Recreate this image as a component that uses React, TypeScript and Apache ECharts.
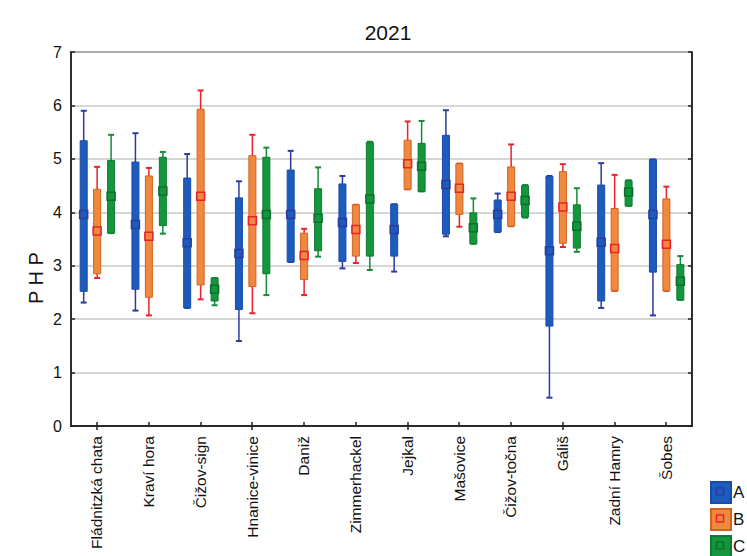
import React, { useEffect, useRef } from "react";
import * as echarts from "echarts";

const title = "2021";
const yName = "P H P";
const categories = [
  "Fládnitzká chata",
  "Kraví hora",
  "Čižov-sign",
  "Hnanice-vinice",
  "Daniž",
  "Zimmerhackel",
  "Jejkal",
  "Mašovice",
  "Čižov-točna",
  "Gáliš",
  "Zadní Hamry",
  "Šobes",
];
const groupNames = ["A", "B", "C"];

// [min, lower box, mean, upper box, max]
const seriesA = [
  [2.31, 2.52, 3.96, 5.34, 5.9],
  [2.16, 2.56, 3.77, 4.94, 5.48],
  [2.21, 2.21, 3.43, 4.64, 5.09],
  [1.59, 2.18, 3.23, 4.27, 4.58],
  [3.07, 3.07, 3.96, 4.79, 5.15],
  [2.95, 3.08, 3.81, 4.53, 4.68],
  [2.89, 3.18, 3.68, 4.15, 4.15],
  [3.55, 3.59, 4.52, 5.44, 5.91],
  [3.63, 3.63, 3.96, 4.23, 4.35],
  [0.53, 1.87, 3.28, 4.67, 4.68],
  [2.21, 2.34, 3.44, 4.51, 4.92],
  [2.07, 2.88, 3.96, 4.99, 4.99],
];
const seriesB = [
  [2.77, 2.85, 3.65, 4.43, 4.85],
  [2.07, 2.41, 3.55, 4.68, 4.83],
  [2.37, 2.64, 4.3, 5.93, 6.28],
  [2.11, 2.61, 3.84, 5.06, 5.45],
  [2.45, 2.74, 3.19, 3.61, 3.69],
  [3.05, 3.18, 3.68, 4.14, 4.14],
  [4.43, 4.43, 4.91, 5.35, 5.7],
  [3.73, 3.96, 4.45, 4.91, 4.91],
  [3.74, 3.74, 4.3, 4.85, 5.27],
  [3.35, 3.42, 4.1, 4.76, 4.9],
  [2.53, 2.53, 3.32, 4.07, 4.7],
  [2.53, 2.53, 3.4, 4.25, 4.48],
];
const seriesC = [
  [3.61, 3.61, 4.3, 4.97, 5.45],
  [3.6, 3.75, 4.4, 5.03, 5.13],
  [2.26, 2.34, 2.56, 2.77, 2.77],
  [2.45, 2.85, 3.96, 5.03, 5.21],
  [3.17, 3.28, 3.89, 4.44, 4.84],
  [2.92, 3.18, 4.25, 5.31, 5.32],
  [4.39, 4.39, 4.86, 5.29, 5.71],
  [3.41, 3.41, 3.71, 3.99, 4.26],
  [3.9, 3.91, 4.22, 4.5, 4.51],
  [3.26, 3.33, 3.74, 4.14, 4.45],
  [4.12, 4.12, 4.38, 4.59, 4.6],
  [2.36, 2.36, 2.71, 3.02, 3.18],
];
const yTicks = [0, 1, 2, 3, 4, 5, 6, 7];

const FONT = "'Liberation Sans', Arial, sans-serif";

const styles = [
  { fill: "#1c5cbf", border: "#1b4aa8", whisker: "#2c3a9e", marker: "#2c3a9e", offset: -0.255 },
  { fill: "#f0883e", border: "#cf6420", whisker: "#e8232e", marker: "#e8232e", offset: 0.005 },
  { fill: "#14963c", border: "#0f7a30", whisker: "#178a3a", marker: "#0f6e2c", offset: 0.275 },
];

function makeRender(st: any) {
  return (params: any, api: any) => {
    const cat = api.value(0);
    const band = api.size([1, 0])[0];
    const xc = api.coord([cat, 0])[0] + st.offset * band;
    const yMin = api.coord([cat, api.value(1)])[1];
    const yQ1 = api.coord([cat, api.value(2)])[1];
    const yMean = api.coord([cat, api.value(3)])[1];
    const yQ3 = api.coord([cat, api.value(4)])[1];
    const yMax = api.coord([cat, api.value(5)])[1];
    const bw = 7;
    const cw = 6;
    const mw = 8;
    return {
      type: "group",
      children: [
        { type: "line", shape: { x1: xc, y1: yMax, x2: xc, y2: yMin }, style: { stroke: st.whisker, lineWidth: 1.5 } },
        { type: "line", shape: { x1: xc - cw / 2, y1: yMax, x2: xc + cw / 2, y2: yMax }, style: { stroke: st.whisker, lineWidth: 2 } },
        { type: "line", shape: { x1: xc - cw / 2, y1: yMin, x2: xc + cw / 2, y2: yMin }, style: { stroke: st.whisker, lineWidth: 2 } },
        {
          type: "rect",
          shape: { x: xc - bw / 2, y: yQ3, width: bw, height: Math.max(yQ1 - yQ3, 1) },
          style: { fill: st.fill, stroke: st.border, lineWidth: 1 },
        },
        {
          type: "rect",
          shape: { x: xc - mw / 2, y: yMean - mw / 2, width: mw, height: mw },
          style: { fill: "none", stroke: st.marker, lineWidth: 1.5 },
        },
      ],
    };
  };
}

export default function App() {
  const ref = useRef<HTMLDivElement>(null);
  useEffect(() => {
    if (!ref.current) return;
    const chart = echarts.init(ref.current, null, { renderer: "svg" });
    const groups = [seriesA, seriesB, seriesC];
    const legendTop = 481;
    const legendItemH = 21;
    const legendStep = 27;
    const option: any = {
      animation: false,
      backgroundColor: "#ffffff",
      textStyle: { fontFamily: FONT },
      title: {
        text: title,
        left: 383,
        textAlign: "center",
        top: 17,
        textStyle: { fontSize: 21, fontWeight: "normal", color: "#111", fontFamily: FONT },
      },
      legend: groupNames.map((n, i) => ({
        orient: "vertical",
        left: 710,
        top: legendTop + i * legendStep,
        itemWidth: 20,
        itemHeight: legendItemH,
        padding: 0,
        icon: "rect",
        data: [n],
        textStyle: {
          fontSize: 17,
          color: "#111",
          fontFamily: FONT,
          padding: [0, 0, 0, -3],
        },
      })),
      grid: {
        left: 71,
        right: 55,
        top: 52,
        bottom: 130,
        show: true,
        borderColor: "#222",
        borderWidth: 1.5,
      },
      xAxis: [
        {
          type: "category",
          data: categories,
          position: "bottom",
          axisLine: { show: true, lineStyle: { color: "#222", width: 1.5 } },
          axisTick: { show: true, inside: true, alignWithLabel: true, length: 4, lineStyle: { color: "#222", width: 1.5 } },
          axisLabel: { rotate: 90, fontSize: 15.5, color: "#111", margin: 10, fontFamily: FONT, interval: 0 },
          splitLine: { show: false },
        },
        {
          type: "category",
          data: categories,
          position: "top",
          axisLine: { show: true, lineStyle: { color: "#222", width: 1.5 } },
          axisTick: { show: true, inside: true, alignWithLabel: true, length: 4, lineStyle: { color: "#222", width: 1.5 } },
          axisLabel: { show: false },
          splitLine: { show: false },
        },
      ],
      yAxis: [
        {
          type: "value",
          min: yTicks[0],
          max: yTicks[yTicks.length - 1],
          interval: 1,
          position: "left",
          axisLine: { show: true, lineStyle: { color: "#222", width: 1.5 } },
          axisTick: { show: true, inside: true, length: 4, lineStyle: { color: "#222", width: 1.5 } },
          axisLabel: { fontSize: 16, color: "#111", margin: 9, fontFamily: FONT },
          splitLine: { show: true, lineStyle: { color: "#c8c8c8", width: 1.5 } },
        },
        {
          type: "value",
          min: yTicks[0],
          max: yTicks[yTicks.length - 1],
          interval: 1,
          position: "right",
          axisLine: { show: true, lineStyle: { color: "#222", width: 1.5 } },
          axisTick: { show: true, inside: true, length: 4, lineStyle: { color: "#222", width: 1.5 } },
          axisLabel: { show: false },
          splitLine: { show: false },
        },
      ],
      graphic: [
        {
          type: "text",
          x: 36,
          y: 278,
          rotation: Math.PI / 2,
          style: {
            text: yName,
            fontSize: 20,
            fontFamily: FONT,
            fill: "#111",
            textAlign: "center",
            textVerticalAlign: "middle",
          },
        },
        ...styles.map((st, i) => ({
          type: "rect",
          z: 100,
          shape: {
            x: 716.5,
            y: legendTop + i * legendStep + legendItemH / 2 - 3.5,
            width: 7,
            height: 7,
          },
          style: { fill: "none", stroke: st.marker, lineWidth: 1.5 },
        })),
      ],
      series: groups.map((g, gi) => ({
        name: groupNames[gi],
        type: "custom",
        xAxisIndex: 0,
        yAxisIndex: 0,
        itemStyle: { color: styles[gi].fill, borderColor: styles[gi].border, borderWidth: 1 },
        encode: { x: 0, y: [1, 2, 3, 4, 5] },
        data: g.map((v, ci) => [ci, ...v]),
        renderItem: makeRender(styles[gi]),
      })),
    };
    chart.setOption(option);
    return () => chart.dispose();
  }, []);
  return <div ref={ref} style={{ position: "fixed", left: 0, top: 0, width: 747, height: 556 }} />;
}
